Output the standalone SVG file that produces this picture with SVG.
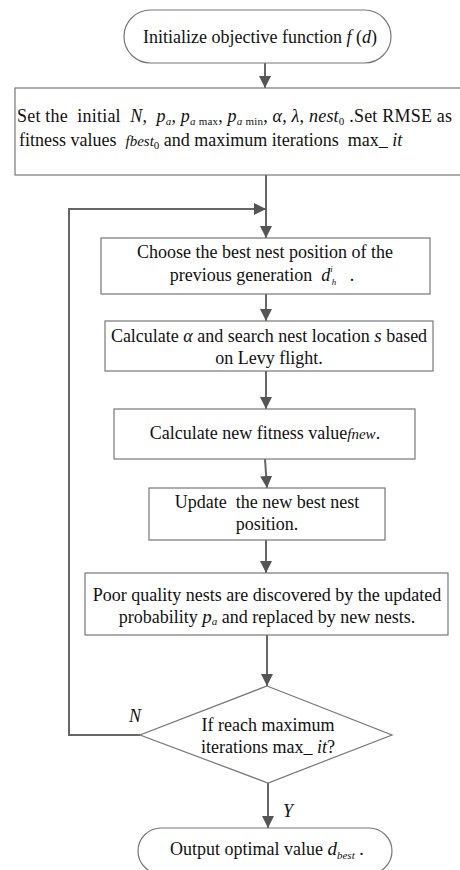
<svg xmlns="http://www.w3.org/2000/svg" width="460" height="870" viewBox="0 0 460 870">
<style>
.box{fill:#fff;stroke:#777;stroke-width:1.2}
.ln{fill:none;stroke:#666;stroke-width:2}
text{font-family:"Liberation Serif","Times New Roman",serif;font-size:18px;fill:#111}
.c{text-anchor:middle}
.i{font-style:italic}
.s{font-size:11px}
</style>
<defs>
<marker id="a" viewBox="0 0 12 12" refX="12" refY="6" markerWidth="12" markerHeight="12" orient="auto" markerUnits="userSpaceOnUse">
<path d="M0,0 L12,6 L0,12 z" fill="#555"/>
</marker>
</defs>
<rect width="460" height="870" fill="#fff"/>
<g id="connectors">
<line class="ln" x1="265" y1="63" x2="265" y2="88" marker-end="url(#a)"/>
<line class="ln" x1="266" y1="175" x2="266" y2="238" marker-end="url(#a)"/>
<polyline class="ln" points="140,735 69,735 69,209 266,209" marker-end="url(#a)"/>
<line class="ln" x1="266" y1="294" x2="266" y2="321" marker-end="url(#a)"/>
<line class="ln" x1="266" y1="371" x2="266" y2="409" marker-end="url(#a)"/>
<line class="ln" x1="265" y1="459" x2="267" y2="488" marker-end="url(#a)"/>
<line class="ln" x1="266" y1="540" x2="266" y2="573" marker-end="url(#a)"/>
<line class="ln" x1="267" y1="635" x2="267" y2="686" marker-end="url(#a)"/>
<line class="ln" x1="268" y1="783" x2="268" y2="828" marker-end="url(#a)"/>
<text x="129" y="722" class="i">N</text>
<text x="283" y="817" class="i">Y</text>
</g>
<g id="start">
<rect class="box" x="124" y="10" width="267" height="53" rx="26.5"/>
<text x="143" y="43">Initialize objective function <tspan class="i">f</tspan> (<tspan class="i">d</tspan>)</text>
</g>
<g id="init">
<rect class="box" x="15" y="88" width="460" height="87"/>
<text x="17" y="122" xml:space="preserve" textLength="435" lengthAdjust="spacing">Set the  initial  <tspan class="i">N</tspan>,  <tspan class="i">p</tspan><tspan class="s i" dy="3">a</tspan><tspan dy="-3">, </tspan><tspan class="i">p</tspan><tspan class="s i" dy="3">a</tspan><tspan class="s"> max</tspan><tspan dy="-3">, </tspan><tspan class="i">p</tspan><tspan class="s i" dy="3">a</tspan><tspan class="s"> min</tspan><tspan dy="-3">, </tspan><tspan class="i">α</tspan>, <tspan class="i">λ</tspan>, <tspan class="i">nest</tspan><tspan class="s" dy="3">0</tspan><tspan dy="-3"> .Set RMSE as</tspan></text>
<text x="19" y="146" xml:space="preserve">fitness values  <tspan class="i" font-size="15">fbest</tspan><tspan class="s" dy="3">0</tspan><tspan dy="-3"> and maximum iterations  max_ </tspan><tspan class="i">it</tspan></text>
</g>
<g id="choose">
<rect class="box" x="101" y="238" width="329" height="56"/>
<text x="265" y="258" class="c">Choose the best nest position of the</text>
<text x="262" y="281" class="c" xml:space="preserve">previous generation  <tspan class="i">d</tspan><tspan class="i" font-size="9" dy="-9">i</tspan><tspan class="i" font-size="9" dx="-1" dy="13">h</tspan><tspan dy="-4">   .</tspan></text>
</g>
<g id="levy">
<rect class="box" x="105" y="321" width="328" height="50"/>
<text x="269" y="342" class="c">Calculate <tspan class="i">α</tspan> and search nest location <tspan class="i" font-size="19">s</tspan> based</text>
<text x="269" y="364" class="c">on Levy flight.</text>
</g>
<g id="fitness">
<rect class="box" x="114" y="409" width="301" height="50"/>
<text x="265" y="439" class="c">Calculate new fitness value<tspan class="i" font-size="15">fnew</tspan>.</text>
</g>
<g id="update">
<rect class="box" x="149" y="488" width="236" height="52"/>
<text x="267" y="508" class="c" xml:space="preserve">Update  the new best nest</text>
<text x="267" y="530" class="c">position.</text>
</g>
<g id="discover">
<rect class="box" x="85" y="573" width="363" height="62"/>
<text x="267" y="601" class="c">Poor quality nests are discovered by the updated</text>
<text x="267" y="623" class="c">probability <tspan class="i" font-size="19">p</tspan><tspan class="s i" dy="2">a</tspan><tspan dy="-2"> and replaced by new nests.</tspan></text>
</g>
<g id="decision">
<polygon class="box" points="267,686 392,735 268,783 140,735"/>
<text x="268" y="731" class="c">If reach maximum</text>
<text x="268" y="753" class="c">iterations max_ <tspan class="i">it</tspan>?</text>
</g>
<g id="end">
<rect class="box" x="138" y="828" width="254" height="46" rx="23"/>
<text x="170" y="855">Output optimal value <tspan class="i" font-size="19">d</tspan><tspan class="s i" dy="4">best</tspan><tspan dy="-4"> .</tspan></text>
</g>
</svg>
